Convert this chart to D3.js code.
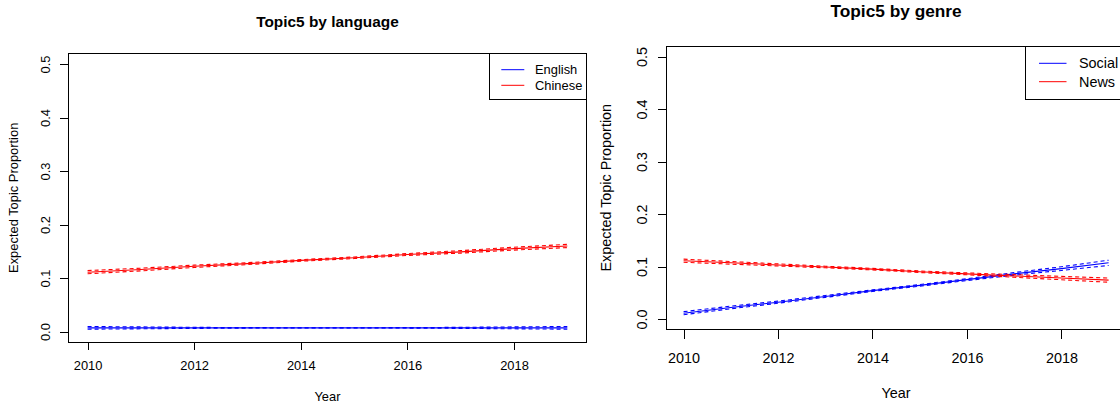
<!DOCTYPE html>
<html>
<head>
<meta charset="utf-8">
<script src="https://cdn.jsdelivr.net/npm/d3@7"></script>
<style>
  html, body { margin: 0; padding: 0; background: #fff; overflow: hidden; }
  svg { display: block; }
  text { font-family: "Liberation Sans", Arial, Helvetica, sans-serif; fill: #000; }
</style>
</head>
<body>
<svg id="chart" width="1120" height="410"></svg>
<script>
// Years on the horizontal axis
const years = [2010, 2011, 2012, 2013, 2014, 2015, 2016, 2017, 2018, 2019];
const xTickYears = [2010, 2012, 2014, 2016, 2018];
const yTickValues = [0.0, 0.1, 0.2, 0.3, 0.4, 0.5];

// Topic5 by language: expected topic proportion with 95% interval
const englishEst   = [0.0070, 0.0070, 0.0070, 0.0070, 0.0070, 0.0070, 0.0070, 0.0070, 0.0070, 0.0070];
const englishLower = [0.0045, 0.0052, 0.0060, 0.0066, 0.0068, 0.0068, 0.0066, 0.0060, 0.0052, 0.0045];
const englishUpper = [0.0095, 0.0088, 0.0080, 0.0074, 0.0072, 0.0072, 0.0074, 0.0080, 0.0088, 0.0095];
const chineseEst   = [0.111, 0.116, 0.122, 0.127, 0.133, 0.138, 0.144, 0.149, 0.155, 0.160];
const chineseLower = [0.108, 0.1135, 0.1198, 0.1252, 0.1315, 0.1365, 0.1422, 0.1467, 0.1523, 0.157];
const chineseUpper = [0.114, 0.1185, 0.1242, 0.1288, 0.1345, 0.1395, 0.1458, 0.1513, 0.1577, 0.163];

// Topic5 by genre
const socialEst   = [0.011, 0.022, 0.032, 0.043, 0.054, 0.064, 0.075, 0.086, 0.096, 0.107];
const socialLower = [0.008, 0.0195, 0.030, 0.0412, 0.0525, 0.0625, 0.0732, 0.0835, 0.0925, 0.102];
const socialUpper = [0.014, 0.0245, 0.034, 0.0448, 0.0555, 0.0655, 0.0768, 0.0885, 0.0995, 0.112];
const newsEst   = [0.111, 0.107, 0.103, 0.099, 0.095, 0.090, 0.086, 0.082, 0.078, 0.074];
const newsLower = [0.108, 0.1045, 0.101, 0.0975, 0.0935, 0.0885, 0.0842, 0.0795, 0.0748, 0.070];
const newsUpper = [0.114, 0.1095, 0.105, 0.1005, 0.0965, 0.0915, 0.0878, 0.0845, 0.0812, 0.078];

const svg = d3.select("#chart");

function drawPanel(cfg) {
  const g = svg.append("g");
  const pad = 0.36; // 4% axis padding on the year range
  const x = d3.scaleLinear().domain([2010 - pad, 2019 + pad]).range([cfg.left, cfg.right]);
  const y = d3.scaleLinear().domain([-0.02, 0.52]).range([cfg.bottom, cfg.top]);
  const fs = cfg.font;

  // series lines
  const line = d3.line().x((d, i) => x(years[i])).y(d => y(d));
  cfg.series.forEach(s => {
    [s.lower, s.upper].forEach(arr => {
      g.append("path").attr("d", line(arr))
        .attr("fill", "none").attr("stroke", s.color)
        .attr("stroke-width", 1.1).attr("stroke-dasharray", "4,3");
    });
    g.append("path").attr("d", line(s.est))
      .attr("fill", "none").attr("stroke", s.color).attr("stroke-width", 1.1);
  });

  // frame
  g.append("rect")
    .attr("x", cfg.left).attr("y", cfg.top)
    .attr("width", cfg.right - cfg.left).attr("height", cfg.bottom - cfg.top)
    .attr("fill", "none").attr("stroke", "#000").attr("stroke-width", 1)
    .attr("shape-rendering", "crispEdges");

  // y axis
  const yAxis = g.append("g").attr("transform", `translate(${cfg.left},0)`)
    .call(d3.axisLeft(y).tickValues(yTickValues).tickSize(cfg.tick).tickSizeOuter(0)
      .tickFormat(d3.format(".1f")));
  yAxis.select(".domain").attr("d", `M0,${y(0)}V${y(0.5)}`).attr("shape-rendering", "crispEdges");
  yAxis.selectAll(".tick line").attr("shape-rendering", "crispEdges");
  yAxis.selectAll(".tick text")
    .attr("x", 0).attr("y", -cfg.yLabelOff).attr("dy", 0)
    .attr("transform", "rotate(-90)")
    .attr("text-anchor", "middle")
    .style("font-size", fs + "px").style("font-family", null);

  // x axis
  const xAxis = g.append("g").attr("transform", `translate(0,${cfg.bottom})`)
    .call(d3.axisBottom(x).tickValues(xTickYears).tickSize(cfg.tick).tickSizeOuter(0)
      .tickFormat(d3.format("d")));
  xAxis.select(".domain").attr("d", `M${x(2010)},0H${x(2018)}`).attr("shape-rendering", "crispEdges");
  xAxis.selectAll(".tick line").attr("shape-rendering", "crispEdges");
  xAxis.selectAll(".tick text")
    .attr("y", cfg.xLabelOff).attr("dy", 0)
    .style("font-size", fs + "px").style("font-family", null);
  g.selectAll(".tick text").attr("fill", "#000");

  // titles
  const cx = (cfg.left + cfg.right) / 2;
  g.append("text").attr("x", cx).attr("y", cfg.titleY)
    .attr("text-anchor", "middle").style("font-weight", "bold")
    .style("font-size", cfg.titleFont + "px").text(cfg.title);
  g.append("text").attr("x", cx).attr("y", cfg.xTitleY)
    .attr("text-anchor", "middle").style("font-size", fs + "px").text("Year");
  g.append("text")
    .attr("transform", `translate(${cfg.yTitleX},${(cfg.top + cfg.bottom) / 2}) rotate(-90)`)
    .attr("text-anchor", "middle").style("font-size", fs + "px")
    .text("Expected Topic Proportion");

  // legend
  const L = cfg.legend;
  g.append("rect").attr("x", L.x0).attr("y", cfg.top)
    .attr("width", cfg.right - L.x0).attr("height", L.y1 - cfg.top)
    .attr("fill", "#fff").attr("stroke", "#000").attr("stroke-width", 1)
    .attr("shape-rendering", "crispEdges");
  cfg.series.forEach((s, i) => {
    const ly = L.rows[i];
    g.append("line").attr("x1", L.lx0).attr("x2", L.lx1).attr("y1", ly).attr("y2", ly)
      .attr("stroke", s.color).attr("stroke-width", 1);
    g.append("text").attr("x", L.tx).attr("y", ly).attr("dy", "0.36em")
      .style("font-size", fs + "px").text(s.name);
  });
}

drawPanel({
  left: 68.4, right: 586.5, top: 53.3, bottom: 342.3,
  font: 12.9, titleFont: 15.4, tick: 8,
  yLabelOff: 18.8, xLabelOff: 28, titleY: 27, xTitleY: 401, yTitleX: 17.5,
  title: "Topic5 by language",
  series: [
    { name: "English", color: "#0000ff", est: englishEst, lower: englishLower, upper: englishUpper },
    { name: "Chinese", color: "#ff0000", est: chineseEst, lower: chineseLower, upper: chineseUpper }
  ],
  legend: { x0: 489.5, y1: 99.3, rows: [69.7, 85.3], lx0: 501.3, lx1: 524.3, tx: 535 }
});

drawPanel({
  left: 666.6, right: 1125.6, top: 46, bottom: 329.5,
  font: 14.4, titleFont: 17.3, tick: 9,
  yLabelOff: 20, xLabelOff: 33, titleY: 17, xTitleY: 398, yTitleX: 610.5,
  title: "Topic5 by genre",
  series: [
    { name: "Social", color: "#0000ff", est: socialEst, lower: socialLower, upper: socialUpper },
    { name: "News", color: "#ff0000", est: newsEst, lower: newsLower, upper: newsUpper }
  ],
  legend: { x0: 1025.8, y1: 99.3, rows: [63.3, 81.7], lx0: 1039, lx1: 1066.5, tx: 1079 }
});
</script>
</body>
</html>
